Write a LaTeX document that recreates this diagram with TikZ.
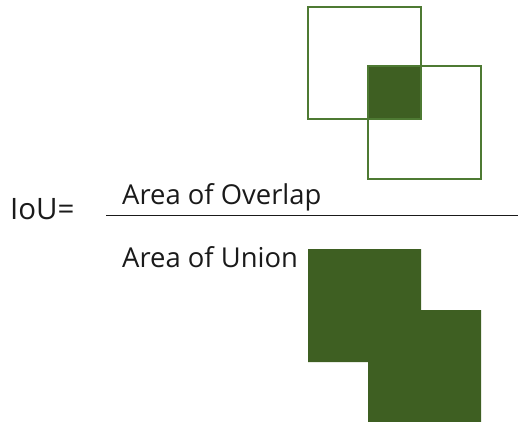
\documentclass[tikz,border=0pt]{standalone}
\usepackage{fontspec}
\setmainfont{Open Sans}
\definecolor{dgreen}{HTML}{3E5F22}
\definecolor{lgreen}{HTML}{4E7A33}
\definecolor{txt}{HTML}{1A1A1A}
\begin{document}
\begin{tikzpicture}[x=1bp,y=-1bp,
  box/.style={draw=lgreen, line width=1.8bp},
  lbl/.style={anchor=base west, inner sep=0pt, text=txt, font=\fontsize{27.4bp}{32bp}\selectfont}]
\useasboundingbox (0,0) rectangle (518,421);
\fill[dgreen] (368,66) rectangle (421,119);
\draw[box] (308,7) rectangle (421,119);
\draw[box] (368,66) rectangle (481,179);
\fill[dgreen] (308,249) -- (421,249) -- (421,310) -- (481,310) -- (481,423) -- (368,423) -- (368,362) -- (308,362) -- cycle;
\node[lbl, font=\fontsize{29.5bp}{34bp}\selectfont] (iou) at (10,219) {IoU=};
\node[lbl] (num) at (122,204) {Area of Overlap};
\node[lbl] (den) at (122,267) {Area of Union};
\coordinate (fl) at (106,215.5);
\coordinate (fr) at (518,215.5);
\draw[line width=1.6bp, txt] (fl) -- (fr);
\end{tikzpicture}
\end{document}
